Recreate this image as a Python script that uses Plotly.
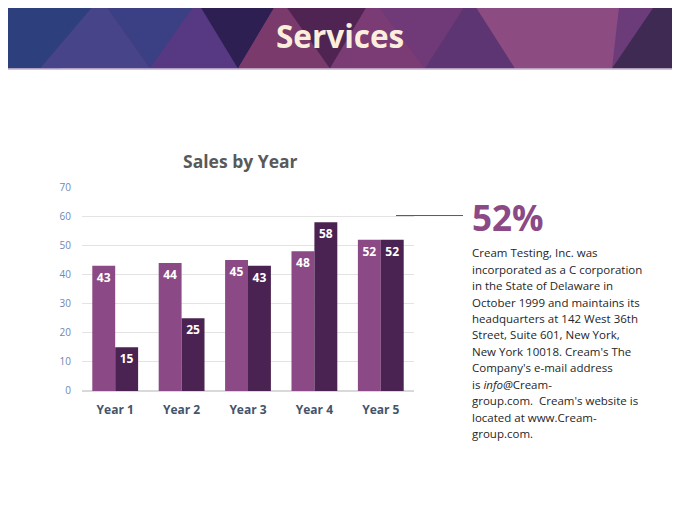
import plotly.graph_objects as go

# data
years = ["Year 1", "Year 2", "Year 3", "Year 4", "Year 5"]
series_1 = [43, 44, 45, 48, 52]
series_2 = [15, 25, 43, 58, 52]
y_ticks = [0, 10, 20, 30, 40, 50, 60, 70]

paragraph_lines = [
    "Cream Testing, Inc. was",
    "incorporated as a C corporation",
    "in the State of Delaware in",
    "October 1999 and maintains its",
    "headquarters at 142 West 36th",
    "Street, Suite 601, New York,",
    "New York 10018. Cream's The",
    "Company's e-mail address",
    "is <i>info@</i>Cream-",
    "group.com.  Cream's website is",
    "located at www.Cream-",
    "group.com.",
]

W, H = 680, 510
OFF = 8  # page body margin
FONT = "Open Sans"


def px(x, y):
    # page pixel -> paper coords (vertical correction measured on the render)
    yy = (y - 9.3) / 0.965
    return (x - OFF) / W, 1 - (yy - OFF) / H


def poly(points, color):
    pts = [px(x, y) for x, y in points]
    path = "M " + " L ".join(f"{a:.4f},{b:.4f}" for a, b in pts) + " Z"
    return dict(type="path", xref="paper", yref="paper", path=path,
                fillcolor=color, line=dict(width=0), layer="below")


# header banner (decoration)
banner = [
    ([(0, -20), (690, -20), (690, 70), (0, 70)], "#6c3c7a"),
    ([(0, -20), (126, -20), (60, 70), (0, 70)], "#2e3f7e"),
    ([(40, 70), (100, 0), (150, 70)], "#474489"),
    ([(100, 0), (200, 0), (150, 70)], "#3b3f84"),
    ([(150, 70), (200, 0), (240, 70)], "#563883"),
    ([(195, 0), (280, 0), (238, 70)], "#2e1f52"),
    ([(238, 70), (280, 0), (330, 70)], "#7a3a6c"),
    ([(280, 0), (372, 0), (330, 70)], "#4f2452"),
    ([(330, 70), (372, 0), (425, 70)], "#7b3b74"),
    ([(372, 0), (470, 0), (425, 70)], "#703a78"),
    ([(425, 70), (470, 0), (515, 70)], "#5e3573"),
    ([(470, 0), (620, 0), (612, 70), (515, 70)], "#8c4c82"),
    ([(612, 70), (660, 0), (690, 0), (690, 70)], "#3e2a52"),
]
shapes = [poly(p, c) for p, c in banner]
_, yb = px(0, 70.5)
shapes.append(dict(type="line", xref="paper", yref="paper",
                   x0=0, x1=1, y0=yb, y1=yb,
                   line=dict(color="#c4b2cc", width=1.5)))
# callout line next to 52%
x0, y0 = px(396, 216)
x1, _ = px(463, 216)
shapes.append(dict(type="line", xref="paper", yref="paper",
                   x0=x0, x1=x1, y0=y0, y1=y0,
                   line=dict(color="#595959", width=1)))

fig = go.Figure()
fig.add_trace(go.Bar(x=years, y=series_1, name="Series 1",
                     marker=dict(color="#8b4a85", line=dict(width=0)),
                     text=series_1, textposition="inside",
                     insidetextanchor="end",
                     textfont=dict(color="white", size=12, family=FONT, weight="bold")))
fig.add_trace(go.Bar(x=years, y=series_2, name="Series 2",
                     marker=dict(color="#4b2352", line=dict(width=0)),
                     text=series_2, textposition="inside",
                     insidetextanchor="end",
                     textfont=dict(color="white", size=12, family=FONT, weight="bold")))

annotations = []
sx, sy = px(340, 37)
annotations.append(dict(text="<b>Services</b>", x=sx, y=sy, xanchor="center", yanchor="middle",
                        font=dict(size=31.5, color="#fbeedd", family=FONT)))
tx, ty = px(240, 162)
annotations.append(dict(text="<b>Sales by Year</b>", x=tx, y=ty, xanchor="center", yanchor="middle",
                        font=dict(size=17.5, color="#595959", family=FONT)))
px52, py52 = px(470, 218)
annotations.append(dict(text="<b>52%</b>", x=px52, y=py52, xanchor="left", yanchor="middle",
                        font=dict(size=35, color="#8b4a85", family=FONT)))
for i, line in enumerate(paragraph_lines):
    lx, ly = px(470, 253 + i * 16.3)
    annotations.append(dict(text=line, x=lx, y=ly, xanchor="left", yanchor="middle",
                            font=dict(size=11.5, color="#262626", family=FONT)))
for a in annotations:
    a.update(xref="paper", yref="paper", showarrow=False)

xd0, yd0 = px(82, 390)
xd1, yd1 = px(414, 188)

fig.update_layout(
    width=W, height=H,
    margin=dict(l=0, r=0, t=0, b=0),
    plot_bgcolor="white", paper_bgcolor="white",
    barmode="group", bargap=0.31, bargroupgap=0,
    showlegend=False,
    font=dict(family=FONT),
    xaxis=dict(domain=[xd0, xd1], showgrid=False, showline=False,
               ticks="", ticklabelstandoff=10,
               tickfont=dict(size=12, color="#44546a", weight="bold")),
    yaxis=dict(domain=[yd0, yd1], range=[0, 70],
               tickvals=y_ticks, showgrid=True, gridcolor="#e3e3e3",
               zeroline=True, zerolinecolor="#d9d9d9", showline=False,
               tickfont=dict(size=10, color="#6f87b0"), ticklabelstandoff=10),
    shapes=shapes,
    annotations=annotations,
)

fig.write_html("out.html")
